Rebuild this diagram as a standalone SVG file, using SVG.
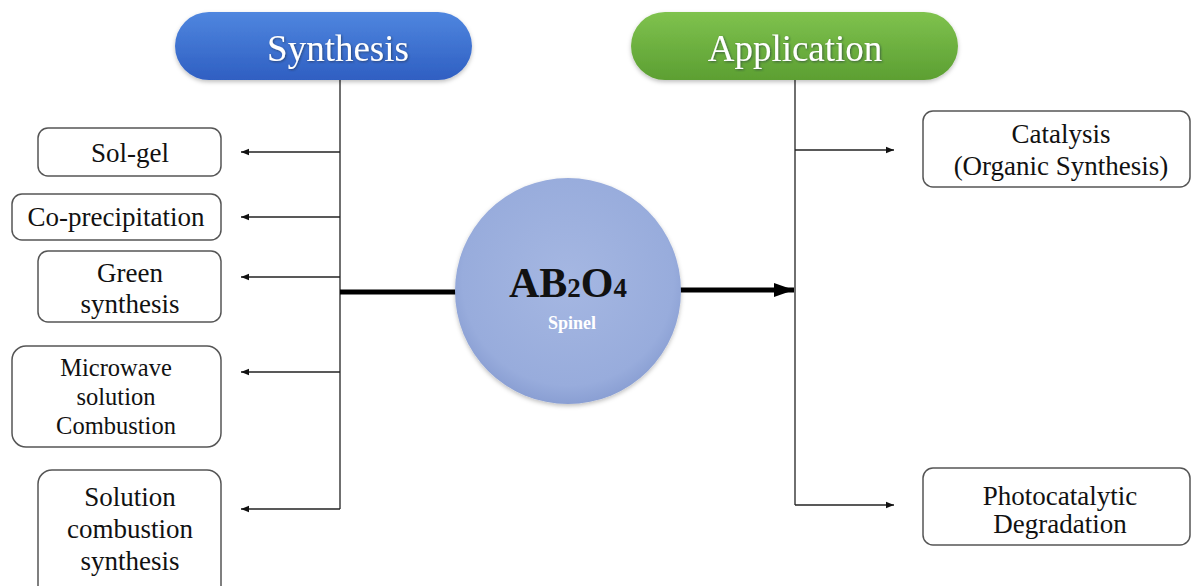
<svg xmlns="http://www.w3.org/2000/svg" width="1191" height="586" viewBox="0 0 1191 586">
<defs>
<linearGradient id="gBlue" x1="0" y1="0" x2="0" y2="1"><stop offset="0" stop-color="#4f86df"/><stop offset="1" stop-color="#2f5fc2"/></linearGradient>
<linearGradient id="gGreen" x1="0" y1="0" x2="0" y2="1"><stop offset="0" stop-color="#7fc24e"/><stop offset="1" stop-color="#5c9f32"/></linearGradient>
<radialGradient id="gCirc" cx="0.5" cy="0.45" r="0.55"><stop offset="0" stop-color="#a5b7e2"/><stop offset="0.85" stop-color="#98acdc"/><stop offset="1" stop-color="#8a9fd3"/></radialGradient>
<filter id="sh" x="-20%" y="-20%" width="140%" height="140%"><feDropShadow dx="0" dy="2" stdDeviation="2" flood-color="#000" flood-opacity="0.25"/></filter>
<filter id="tsh" x="-10%" y="-20%" width="120%" height="140%"><feDropShadow dx="1" dy="1" stdDeviation="0.8" flood-color="#1a2a40" flood-opacity="0.6"/></filter>
<marker id="ah" viewBox="0 0 10 10" refX="10" refY="5" markerWidth="8" markerHeight="8" markerUnits="userSpaceOnUse" orient="auto"><path d="M0,1 L10,5 L0,9 Z" fill="#111"/></marker>
<marker id="ahBig" viewBox="0 0 10 10" refX="10" refY="5" markerWidth="20" markerHeight="20" markerUnits="userSpaceOnUse" orient="auto"><path d="M0,1.5 L10,5 L0,8.5 Z" fill="#000"/></marker>
</defs>
<style>
.box{fill:#fff;stroke:#555;stroke-width:1.5}
text{font-family:"Liberation Serif",serif}
.t{font-size:27px;fill:#111;text-anchor:middle}
.ts{font-size:24.5px}
.head{font-size:37px;fill:#fff;text-anchor:middle}
.ln{stroke:#222;stroke-width:1.3;fill:none}
.thick{stroke:#000;stroke-width:5;fill:none}
</style>
<rect width="1191" height="586" fill="#fff"/>
<g id="connectors">
<line class="ln" x1="340" y1="80" x2="340" y2="509"/>
<line class="ln" x1="340" y1="152" x2="241" y2="152" marker-end="url(#ah)"/>
<line class="ln" x1="340" y1="217" x2="241" y2="217" marker-end="url(#ah)"/>
<line class="ln" x1="340" y1="277" x2="241" y2="277" marker-end="url(#ah)"/>
<line class="ln" x1="340" y1="372" x2="241" y2="372" marker-end="url(#ah)"/>
<line class="ln" x1="340" y1="509" x2="241" y2="509" marker-end="url(#ah)" stroke-width="2"/>
<line class="ln" x1="795" y1="80" x2="795" y2="505"/>
<line class="ln" x1="795" y1="150" x2="894" y2="150" marker-end="url(#ah)"/>
<line class="ln" x1="795" y1="505" x2="894" y2="505" marker-end="url(#ah)"/>
<line class="thick" x1="340" y1="292" x2="457" y2="292"/>
<line class="thick" x1="680" y1="290" x2="794" y2="290" marker-end="url(#ahBig)"/>
</g>
<g id="synthesis">
<rect x="175" y="12" width="297" height="68" rx="34" fill="url(#gBlue)" filter="url(#sh)"/>
<text class="head" x="338" y="61" filter="url(#tsh)">Synthesis</text>
</g>
<g id="application">
<rect x="631" y="12" width="327" height="68" rx="34" fill="url(#gGreen)" filter="url(#sh)"/>
<text class="head" x="795" y="61" filter="url(#tsh)">Application</text>
</g>
<g id="spinel">
<circle cx="568" cy="291" r="113" fill="url(#gCirc)" filter="url(#sh)"/>
<text x="568" y="297" text-anchor="middle" font-weight="bold" font-size="42" fill="#111">AB<tspan font-size="27">2</tspan>O<tspan font-size="27">4</tspan></text>
<text x="572" y="329" text-anchor="middle" font-weight="bold" font-size="18" fill="#fff">Spinel</text>
</g>
<g id="solgel">
<rect class="box" x="38" y="128" width="183" height="48" rx="10"/>
<text class="t" x="130" y="162">Sol-gel</text>
</g>
<g id="coprecipitation">
<rect class="box" x="12" y="194" width="209" height="46" rx="10"/>
<text class="t" x="116" y="226">Co-precipitation</text>
</g>
<g id="green">
<rect class="box" x="38" y="251" width="183" height="71" rx="10"/>
<text class="t" x="130" y="282">Green</text>
<text class="t" x="130" y="313">synthesis</text>
</g>
<g id="microwave">
<rect class="box" x="12" y="346" width="209" height="101" rx="14"/>
<text class="t ts" x="116" y="376">Microwave</text>
<text class="t ts" x="116" y="405">solution</text>
<text class="t ts" x="116" y="434">Combustion</text>
</g>
<g id="solution">
<rect class="box" x="38" y="470" width="183" height="130" rx="14"/>
<text class="t" x="130" y="506">Solution</text>
<text class="t" x="130" y="538">combustion</text>
<text class="t" x="130" y="570">synthesis</text>
</g>
<g id="catalysis">
<rect class="box" x="923" y="111" width="267" height="76" rx="10"/>
<text class="t" x="1061" y="143">Catalysis</text>
<text class="t" x="1061" y="175">(Organic Synthesis)</text>
</g>
<g id="photocatalytic">
<rect class="box" x="923" y="468" width="267" height="77" rx="10"/>
<text class="t" x="1060" y="505">Photocatalytic</text>
<text class="t" x="1060" y="533">Degradation</text>
</g>
</svg>
